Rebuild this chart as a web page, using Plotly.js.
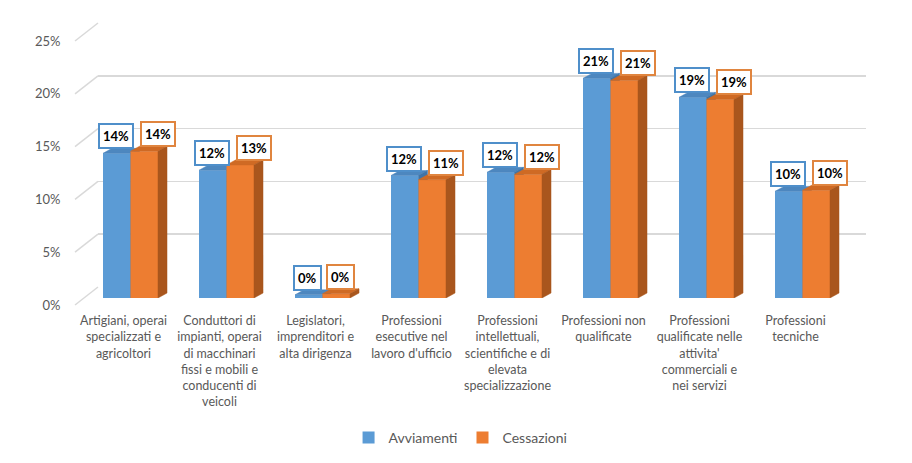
<!DOCTYPE html>
<html><head><meta charset="utf-8">
<script src="https://cdn.plot.ly/plotly-3.0.1.min.js"></script>
<style>html,body{margin:0;padding:0;background:#fff}#chart{width:912px;height:463px}</style>
</head><body><div id="chart"></div>
<script>
const categoryLabels = [
  "Artigiani, operai<br>specializzati e<br>agricoltori",
  "Conduttori di<br>impianti, operai<br>di macchinari<br>fissi e mobili e<br>conducenti di<br>veicoli",
  "Legislatori,<br>imprenditori e<br>alta dirigenza",
  "Professioni<br>esecutive nel<br>lavoro d'ufficio",
  "Professioni<br>intellettuali,<br>scientifiche e di<br>elevata<br>specializzazione",
  "Professioni non<br>qualificate",
  "Professioni<br>qualificate nelle<br>attivita'<br>commerciali e<br>nei servizi",
  "Professioni<br>tecniche"
];
const seriesNames = ["Avviamenti", "Cessazioni"];
const avviamenti = [0.137, 0.121, 0.003, 0.116, 0.119, 0.208, 0.190, 0.101];
const cessazioni = [0.139, 0.126, 0.004, 0.112, 0.117, 0.206, 0.188, 0.102];
const yTicks = [0, 0.05, 0.10, 0.15, 0.20, 0.25];

// ---- layout geometry (px) ----
const W = 912, H = 463;
const px = v => v / W, py = v => (H - v) / H;
const FONT = "Lato, 'Open Sans', sans-serif";
const idx = categoryLabels.map((_, i) => i);
const bw = 0.2865;            // bar width (category units)
const dx = 0.094, dy = 0.0047; // 3D depth offsets in data units

const colors = {
  blue: "#5b9bd5", blueTop: "#4d87bf", blueSide: "#3f74a8",
  orange: "#ed7d31", orangeTop: "#cf6a24", orangeSide: "#a9561d",
  blueBorder: "#4f8fca", orangeBorder: "#e0853f"
};

function faces(vals, off) {
  const top = {x: [], y: []}, side = {x: [], y: []};
  vals.forEach((v, i) => {
    const x0 = i + off, x1 = x0 + bw;
    top.x.push(x0, x1, x1 + dx, x0 + dx, x0, null);
    top.y.push(v, v, v + dy, v + dy, v, null);
    side.x.push(x1, x1 + dx, x1 + dx, x1, x1, null);
    side.y.push(0, dy, v + dy, v, 0, null);
  });
  return {top, side};
}

const fb = faces(avviamenti, -bw), fo = faces(cessazioni, 0);

const traces = [
  // back-wall grid holder
  {type: "scatter", x: [0], y: [0], xaxis: "x", yaxis: "y", mode: "markers",
   marker: {opacity: 0}, showlegend: false, hoverinfo: "skip"},
  // blue series
  {type: "bar", name: seriesNames[0], x: idx, y: avviamenti, width: bw, offset: -bw,
   xaxis: "x2", yaxis: "y2", marker: {color: colors.blue, line: {width: 0}}},
  {type: "scatter", x: fb.top.x, y: fb.top.y, xaxis: "x2", yaxis: "y2", mode: "lines",
   fill: "toself", fillcolor: colors.blueTop, line: {width: 0.5, color: colors.blueTop},
   showlegend: false, hoverinfo: "skip", cliponaxis: false},
  {type: "scatter", x: fb.side.x, y: fb.side.y, xaxis: "x2", yaxis: "y2", mode: "lines",
   fill: "toself", fillcolor: colors.blueSide, line: {width: 0.5, color: colors.blueSide},
   showlegend: false, hoverinfo: "skip", cliponaxis: false},
  // orange series
  {type: "bar", name: seriesNames[1], x: idx, y: cessazioni, width: bw, offset: 0,
   xaxis: "x3", yaxis: "y3", marker: {color: colors.orange, line: {width: 0}}},
  {type: "scatter", x: fo.top.x, y: fo.top.y, xaxis: "x3", yaxis: "y3", mode: "lines",
   fill: "toself", fillcolor: colors.orangeTop, line: {width: 0.5, color: colors.orangeTop},
   showlegend: false, hoverinfo: "skip", cliponaxis: false},
  {type: "scatter", x: fo.side.x, y: fo.side.y, xaxis: "x3", yaxis: "y3", mode: "lines",
   fill: "toself", fillcolor: colors.orangeSide, line: {width: 0.5, color: colors.orangeSide},
   showlegend: false, hoverinfo: "skip", cliponaxis: false},
  // front value-axis labels holder
  {type: "scatter", x: [0], y: [0], xaxis: "x4", yaxis: "y4", mode: "markers",
   marker: {opacity: 0}, showlegend: false, hoverinfo: "skip"}
];

// geometry
const backX = [98, 866], back0 = 287, back25 = 23;
const barX = [82.5, 850.5], bar0 = 298, bar25 = 34;
const front0 = 305, front25 = 41, frontX = 75;

const barX_axis = (d) => Object.assign({domain: [px(barX[0]), px(barX[1])], range: [-0.5, 7.5]}, d);
const barY_axis = {domain: [py(bar0), py(bar25)], range: [0, 0.25], visible: false};

// label annotations (orange nudged right to avoid overlapping blue box, like Excel)
const boxW = t => 9 * t.length + 10;
const annotations = [];
avviamenti.forEach((v, i) => {
  const tb = Math.round(v * 100) + "%", to = Math.round(cessazioni[i] * 100) + "%";
  const overlap = Math.max(0, boxW(tb) / 2 + boxW(to) / 2 - 27.5 + 4);
  annotations.push({xref: "x2", yref: "y2", x: i - bw / 2, y: v, yanchor: "bottom", yshift: 4,
    xshift: -1, text: "<b>" + tb + "</b>", showarrow: false, bgcolor: "#fff",
    bordercolor: colors.blueBorder, borderwidth: 2, borderpad: 3,
    font: {family: FONT, size: 13, color: "#000"}});
  annotations.push({xref: "x3", yref: "y3", x: i + bw / 2, y: cessazioni[i], yanchor: "bottom", yshift: 4,
    xshift: overlap, text: "<b>" + to + "</b>", showarrow: false, bgcolor: "#fff",
    bordercolor: colors.orangeBorder, borderwidth: 2, borderpad: 3,
    font: {family: FONT, size: 13, color: "#000"}});
});

// diagonal gridline connectors (front edge to back wall)
const shapes = yTicks.map(v => ({
  type: "line", xref: "paper", yref: "paper",
  x0: px(frontX), y0: py(front0 - v / 0.25 * (front0 - front25)),
  x1: px(backX[0]), y1: py(back0 - v / 0.25 * (back0 - back25)),
  line: {color: "#d9d9d9", width: 1.5}, layer: "below"
}));

const layout = {
  width: W, height: H,
  margin: {l: 0, r: 0, t: 0, b: 0, autoexpand: false},
  paper_bgcolor: "#fff", plot_bgcolor: "rgba(0,0,0,0)",
  font: {family: FONT, color: "#595959"},
  showlegend: true, hovermode: false,
  xaxis: {domain: [px(backX[0]), px(backX[1])], range: [0, 1], visible: false},
  yaxis: {domain: [py(back0), py(back25)], range: [0, 0.25], tickvals: yTicks,
          showgrid: true, gridcolor: "#d9d9d9", gridwidth: 1.5, zeroline: false,
          showticklabels: false, ticks: "", showline: false},
  xaxis2: barX_axis({anchor: "y2", tickvals: idx, ticktext: categoryLabels, showgrid: false, zeroline: false,
          showline: false, ticks: "outside", ticklen: 11, tickcolor: "rgba(0,0,0,0)",
          ticklabelshift: -7, tickangle: 0, tickfont: {family: FONT, size: 12.5, color: "#595959"}}),
  yaxis2: Object.assign({anchor: "x2"}, barY_axis),
  xaxis3: barX_axis({visible: false, anchor: "y3"}),
  yaxis3: Object.assign({anchor: "x3"}, barY_axis),
  xaxis4: {domain: [px(frontX), px(backX[1])], range: [0, 1], visible: false, anchor: "y4"},
  yaxis4: {domain: [py(front0), py(front25)], range: [0, 0.25], tickvals: yTicks, tickformat: ".0%",
           anchor: "x4", showgrid: false, zeroline: false, showline: false,
           ticks: "outside", ticklen: 11, tickcolor: "rgba(0,0,0,0)",
           tickfont: {family: FONT, size: 13, color: "#595959"}},
  legend: {orientation: "h", x: 0.505, xanchor: "center", xref: "paper", y: py(438), yanchor: "middle",
           font: {family: FONT, size: 14, color: "#595959"}, itemwidth: 30, bgcolor: "rgba(0,0,0,0)"},
  annotations, shapes
};

Plotly.newPlot("chart", traces, layout, {displayModeBar: false, staticPlot: true});
</script></body></html>
